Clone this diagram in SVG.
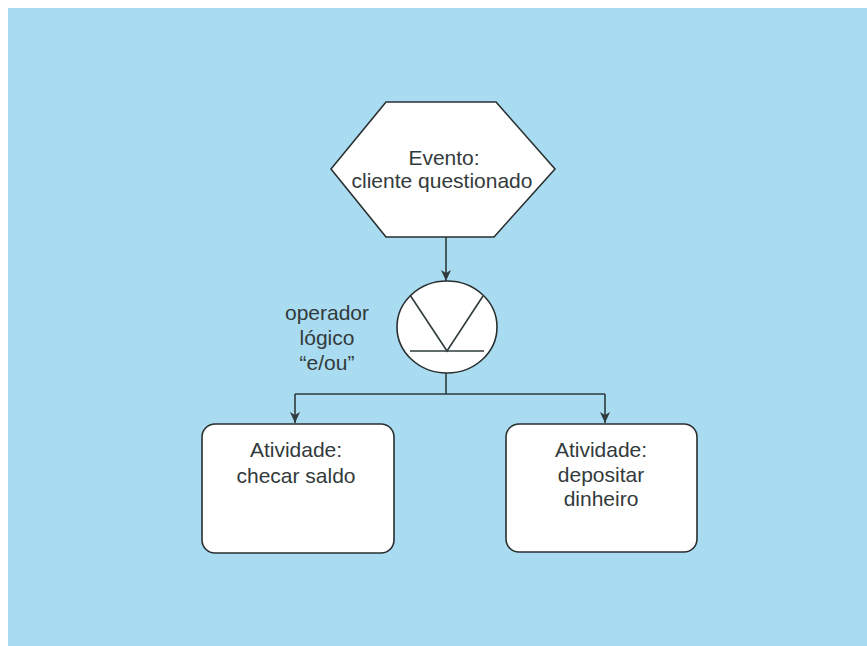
<svg xmlns="http://www.w3.org/2000/svg" width="867" height="646" viewBox="0 0 867 646">
  <defs>
    <marker id="arrow" viewBox="0 0 12 12" refX="11" refY="6" markerWidth="12" markerHeight="12" markerUnits="userSpaceOnUse" orient="auto">
      <path d="M0,1 L11,6 L0,11 L3,6 Z" fill="#2f3b3c"/>
    </marker>
  </defs>
  <style>
    .shape { fill: #ffffff; stroke: #2a2f30; stroke-width: 1.6; }
    .line { fill: none; stroke: #2f3b3c; stroke-width: 1.6; }
    .txt { font-family: "Liberation Sans", Arial, sans-serif; font-size: 21px; fill: #333a3b; text-anchor: middle; }
  </style>

  <!-- page and panel -->
  <rect x="0" y="0" width="867" height="646" fill="#ffffff"/>
  <rect x="8" y="8" width="859" height="638" fill="#a9dcf1"/>

  <!-- connectors -->
  <g id="connectors">
    <line class="line" x1="446" y1="237" x2="446" y2="281" marker-end="url(#arrow)"/>
    <line class="line" x1="446" y1="373" x2="446" y2="394"/>
    <line class="line" x1="295" y1="394" x2="605" y2="394"/>
    <line class="line" x1="295" y1="394" x2="295" y2="423" marker-end="url(#arrow)"/>
    <line class="line" x1="605" y1="394" x2="605" y2="423" marker-end="url(#arrow)"/>
  </g>

  <!-- event hexagon -->
  <g id="evento">
    <polygon class="shape" points="386,102 496,102 555,169 494,237 386,237 331,169"/>
    <text class="txt" x="444" y="165">Evento:</text>
    <text class="txt" x="442" y="188">cliente questionado</text>
  </g>

  <!-- logical and/or operator -->
  <g id="operador">
    <ellipse class="shape" cx="447" cy="327" rx="50" ry="46"/>
    <polyline class="line" points="410,295 447,351 483,296"/>
    <line class="line" x1="410" y1="351" x2="484" y2="351"/>
  </g>
  <g id="rotulo-operador">
    <text class="txt" x="327" y="320">operador</text>
    <text class="txt" x="327" y="345">lógico</text>
    <text class="txt" x="327" y="370">“e/ou”</text>
  </g>

  <!-- activity: check balance -->
  <g id="checar-saldo">
    <rect class="shape" x="202" y="424" width="192" height="129" rx="13" ry="13"/>
    <text class="txt" x="296" y="457">Atividade:</text>
    <text class="txt" x="296" y="483">checar saldo</text>
  </g>

  <!-- activity: deposit money -->
  <g id="depositar-dinheiro">
    <rect class="shape" x="506" y="424" width="191" height="128" rx="13" ry="13"/>
    <text class="txt" x="601" y="457">Atividade:</text>
    <text class="txt" x="601" y="482">depositar</text>
    <text class="txt" x="601" y="506">dinheiro</text>
  </g>
</svg>
